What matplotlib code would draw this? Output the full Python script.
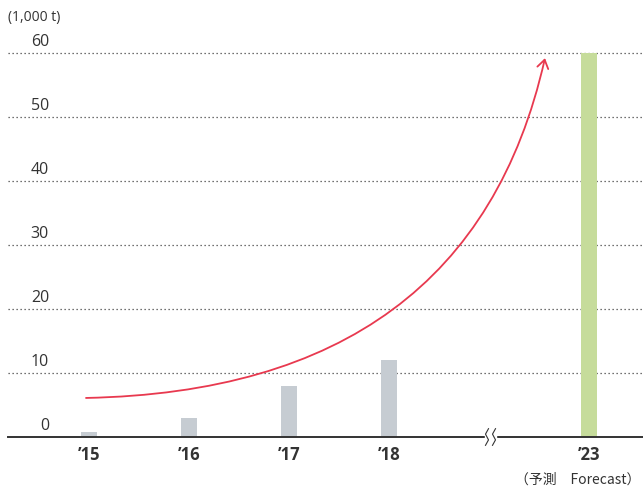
import matplotlib.pyplot as plt
from matplotlib.path import Path
from matplotlib.patches import FancyArrowPatch, Rectangle

plt.rcParams['font.family'] = ['Open Sans', 'Noto Sans CJK JP', 'DejaVu Sans']

# data
years = ["’15", "’16", "’17", "’18", "’23"]
xpos = [0, 1, 2, 3, 5]
values = [0.8, 3.0, 8.0, 12.0, 60.0]
colors = ['#c6ccd2'] * 4 + ['#c6dc9b']
yticks = [0, 10, 20, 30, 40, 50, 60]

# trend arrow (quadratic curve: start, control, end)
trend_x = [-0.03, 3.81, 4.56]
trend_y = [6.1, 7.3, 59.2]

fig = plt.figure(figsize=(6.43, 4.87), dpi=100)
ax = fig.add_axes([8 / 643, 50 / 487, 635 / 643, 384 / 487])
ax.set_xlim(-0.81, 5.54)
ax.set_ylim(0, 60)
ax.axis('off')

txt = '#333333'

# grid lines
for t in yticks[1:]:
    ax.axhline(t, color='#444444', lw=0.9, ls=(0, (1, 2.2)), clip_on=False, zorder=1)
for t in yticks:
    ax.text(-0.4, t + 0.5, str(t), ha='right', va='bottom', fontsize=11.5, color=txt)

# bars
ax.bar(xpos, values, width=0.16, color=colors, zorder=2)

# baseline with break mark
ax.axhline(0, color='#333333', lw=1.4, zorder=3, clip_on=False)
ax.add_patch(Rectangle((3.96, -1), 0.11, 2, color='white', zorder=4, clip_on=False))
for dx in (3.97, 4.04):
    ax.plot([dx + 0.025, dx - 0.005, dx + 0.025, dx - 0.005],
            [1.3, 0.45, -0.45, -1.3], color='#333333', lw=0.8, zorder=5, clip_on=False)

# trend arrow
verts = list(zip(trend_x, trend_y))
path = Path(verts, [Path.MOVETO, Path.CURVE3, Path.CURVE3])
arrow = FancyArrowPatch(path=path, arrowstyle='->,head_length=6,head_width=4',
                        color='#e8394f', lw=1.3, zorder=6, mutation_scale=1)
ax.add_patch(arrow)

# x labels
for x, lab in zip(xpos, years):
    ax.text(x, -1.4, lab, ha='center', va='top', fontsize=12, fontweight='bold', color=txt)

fig.text(8 / 643, 1 - 17 / 487, '(1,000 t)', ha='left', va='center', fontsize=10, color=txt)
fig.text(640 / 643, 1 - 480 / 487, '（予測　Forecast）', ha='right', va='center',
         fontsize=10, color=txt, family=['Noto Sans CJK JP', 'DejaVu Sans'])

fig.savefig('out.png', dpi=100)
